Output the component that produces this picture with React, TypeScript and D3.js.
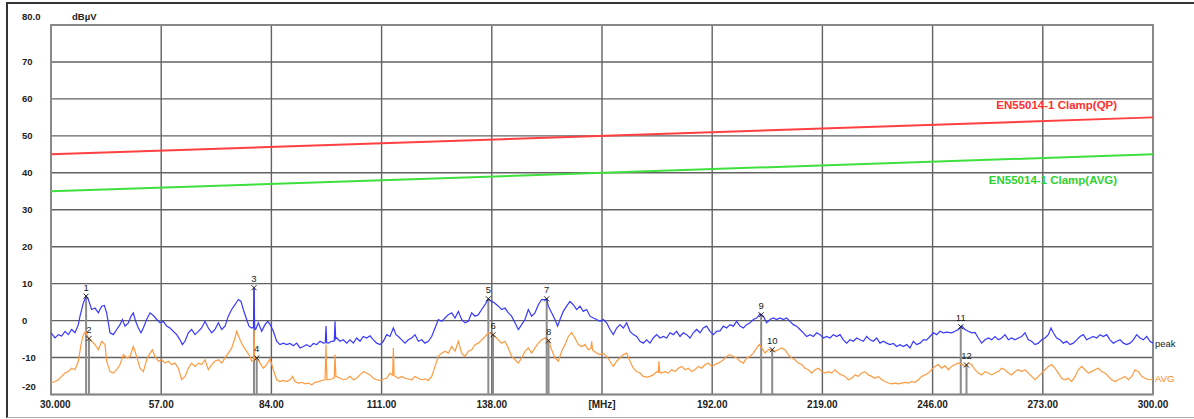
import React from 'react';
import * as d3 from 'd3';

// Frequency axis (MHz) and level axis (dBµV)
const X_TICKS = [30, 57, 84, 111, 138, 165, 192, 219, 246, 273, 300];
const X_TICK_LABELS = ['30.000', '57.00', '84.00', '111.00', '138.00', '[MHz]', '192.00', '219.00', '246.00', '273.00', '300.00'];
const Y_TICKS = [80, 70, 60, 50, 40, 30, 20, 10, 0, -10, -20];
const Y_TICK_LABELS = ['80.0', '70', '60', '50', '40', '30', '20', '10', '0', '-10', '-20'];
const Y_UNIT = 'dBµV';

// Limit lines: EN55014-1 clamp, quasi-peak and average
const LIMIT_FREQ = [30, 300];
const LIMIT_QP = [45, 55];
const LIMIT_AVG = [35, 45];
const LIMIT_QP_LABEL = 'EN55014-1 Clamp(QP)';
const LIMIT_AVG_LABEL = 'EN55014-1 Clamp(AVG)';

// Peak detector trace
const PEAK_FREQ = [30.0, 30.98, 31.8, 32.61, 33.43, 34.25, 35.06, 35.88, 36.7, 37.11, 37.92, 38.6, 39.15, 39.96, 40.78, 41.6, 42.41, 43.07, 43.64, 44.05, 44.46, 45.27, 46.09, 46.91, 47.48, 48.13, 48.95, 49.6, 50.17, 50.74, 51.4, 52.05, 52.62, 53.44, 54.26, 55.07, 55.89, 56.71, 57.52, 58.34, 59.16, 59.97, 60.79, 61.61, 62.18, 62.83, 63.65, 64.46, 65.28, 66.1, 66.91, 67.73, 68.55, 69.37, 70.18, 71.0, 71.82, 72.63, 73.45, 74.27, 75.08, 75.9, 76.55, 77.12, 77.94, 78.51, 79.16, 79.6, 79.74, 79.9, 80.14, 80.8, 81.62, 82.43, 83.09, 83.66, 84.48, 85.29, 86.11, 86.93, 87.74, 88.56, 89.38, 90.19, 91.01, 91.83, 92.64, 93.46, 94.28, 95.09, 95.91, 96.73, 97.2, 97.38, 97.55, 97.95, 98.77, 99.4, 99.59, 99.75, 100.0, 100.81, 101.63, 102.44, 103.26, 104.08, 104.89, 105.71, 106.53, 107.34, 108.16, 108.98, 109.79, 110.61, 111.43, 112.24, 113.06, 113.88, 114.53, 115.1, 115.92, 116.74, 117.55, 118.37, 119.19, 120.0, 120.82, 121.64, 122.45, 123.27, 124.09, 124.9, 125.72, 126.54, 127.35, 128.17, 128.99, 129.8, 130.62, 131.44, 132.25, 133.07, 133.89, 134.7, 135.52, 136.34, 137.15, 137.97, 138.78, 139.6, 140.41, 141.23, 142.05, 142.86, 143.68, 144.5, 145.31, 146.13, 146.95, 147.76, 148.58, 149.4, 150.21, 151.03, 151.45, 151.85, 152.66, 153.48, 154.13, 154.71, 155.52, 156.34, 157.16, 157.97, 158.79, 159.61, 160.42, 161.24, 162.06, 162.87, 163.69, 164.51, 165.32, 166.14, 166.96, 167.77, 168.59, 169.41, 170.22, 171.04, 171.86, 172.67, 173.49, 174.31, 175.12, 175.94, 176.76, 177.57, 178.39, 179.21, 180.02, 180.84, 181.66, 182.47, 183.29, 184.11, 184.92, 185.74, 186.56, 187.37, 188.19, 189.01, 189.82, 190.64, 191.46, 192.27, 193.09, 193.91, 194.73, 195.54, 196.36, 197.18, 197.99, 198.81, 199.63, 200.44, 201.26, 202.08, 202.89, 203.71, 204.53, 205.34, 206.16, 206.98, 207.79, 208.61, 209.43, 210.24, 211.06, 211.88, 212.69, 213.51, 214.33, 215.14, 215.96, 216.78, 217.59, 218.41, 219.23, 220.04, 220.86, 221.68, 222.49, 223.31, 224.13, 224.94, 225.76, 226.58, 227.39, 228.21, 229.03, 229.84, 230.66, 231.48, 232.29, 233.11, 233.93, 234.74, 235.56, 236.38, 237.19, 238.01, 238.83, 239.64, 240.46, 241.28, 242.09, 242.91, 243.73, 244.54, 245.36, 246.18, 246.99, 247.81, 248.63, 249.44, 249.86, 250.67, 251.49, 252.31, 253.12, 253.94, 254.76, 255.57, 256.39, 257.21, 258.02, 258.84, 259.66, 260.47, 261.29, 262.11, 262.92, 263.74, 264.56, 265.37, 266.19, 267.01, 267.82, 268.64, 269.46, 270.27, 271.09, 271.91, 272.72, 273.54, 274.36, 275.01, 275.58, 276.4, 277.22, 278.03, 278.85, 279.67, 280.48, 281.3, 282.12, 282.93, 283.75, 284.57, 285.38, 286.2, 287.02, 287.83, 288.65, 289.47, 290.28, 291.1, 291.92, 292.73, 293.55, 294.37, 295.18, 296.0, 296.82, 297.63, 298.45, 299.27, 300.0];
const PEAK_LEVEL = [-3.3, -4.7, -3.8, -4.2, -2.9, -3.8, -2.4, -3.3, -1.1, 1.2, 4.8, 6.6, 5.7, 3.0, 3.4, 2.1, 3.9, 4.1, 2.1, -0.6, -3.3, -3.8, -2.4, -1.1, 0.3, -1.5, -0.6, 1.2, 2.1, -0.2, -2.0, -3.3, -2.0, 0.3, 2.1, 1.4, 0.3, -0.6, -0.2, -1.5, -2.0, -2.9, -3.8, -5.2, -6.5, -5.6, -3.3, -2.4, -3.8, -2.9, -2.0, -0.2, -2.0, -3.3, -2.4, -0.6, -2.4, -1.5, 1.2, 3.0, 4.3, 5.7, 5.2, 3.0, 0.3, -1.5, -2.0, -1.8, 8.9, -2.2, -2.4, -0.6, -2.9, -1.1, -0.2, -1.0, -2.9, -5.6, -6.5, -6.1, -6.5, -6.2, -6.8, -6.1, -7.4, -7.0, -6.5, -7.1, -6.2, -6.5, -5.6, -6.1, -6.0, -1.5, -6.0, -6.1, -5.6, -5.5, -0.2, -5.0, -4.7, -5.6, -5.2, -6.1, -5.2, -6.1, -4.7, -5.6, -4.3, -4.7, -4.1, -5.2, -6.1, -6.5, -5.6, -3.8, -4.3, -2.0, -3.8, -4.3, -5.2, -6.1, -5.2, -4.7, -3.8, -5.6, -5.2, -6.1, -5.6, -4.3, -2.0, 0.3, -0.2, 0.7, 1.6, 2.1, 0.7, 2.5, 0.3, -0.6, -0.2, 2.1, 1.2, 1.6, 3.0, 4.3, 5.9, 5.2, 4.7, 3.9, 3.0, 3.4, 2.1, 1.2, -0.6, -2.4, -1.1, 0.3, 3.0, 1.2, 2.1, 4.3, 5.7, 5.7, 5.9, 3.9, 2.1, 0.3, -1.5, 0.3, 2.5, 3.9, 5.2, 4.3, 3.0, 3.9, 2.5, 3.0, 1.2, 0.7, 0.3, -0.2, 0.3, -0.6, -2.4, -3.8, -2.0, -1.1, -2.0, -0.6, -2.9, -3.8, -4.3, -5.6, -6.1, -5.2, -6.1, -4.7, -3.8, -4.7, -4.3, -4.7, -3.3, -3.8, -2.9, -4.3, -3.3, -3.8, -4.7, -3.3, -2.4, -3.3, -2.0, -1.5, -2.9, -3.8, -2.9, -2.8, -1.5, -2.0, -1.1, -1.5, -0.2, -1.5, -2.0, -1.1, -0.6, 0.3, 0.7, 1.8, 1.2, -0.6, 0.3, 0.7, 0.3, 0.7, 0.3, 0.7, -0.2, -1.1, -1.5, -2.4, -3.3, -4.3, -3.8, -4.3, -3.3, -3.8, -4.7, -4.3, -4.7, -3.8, -4.3, -3.8, -5.2, -6.1, -5.2, -5.6, -4.7, -5.2, -5.6, -4.3, -5.2, -5.6, -4.7, -6.1, -5.6, -6.1, -6.5, -6.2, -7.0, -6.5, -7.0, -6.5, -7.4, -5.6, -6.5, -6.1, -5.2, -5.2, -4.3, -3.3, -3.8, -2.9, -3.3, -3.1, -3.2, -3.3, -2.9, -2.4, -1.4, -2.4, -2.9, -3.3, -3.2, -4.7, -6.1, -5.2, -4.7, -5.2, -4.3, -5.2, -4.7, -3.8, -5.2, -4.7, -5.2, -4.7, -4.3, -3.3, -5.2, -5.6, -6.5, -6.1, -5.2, -4.7, -3.8, -2.0, -3.3, -4.7, -5.2, -6.1, -5.6, -6.5, -6.1, -5.2, -4.3, -3.8, -5.2, -4.7, -4.3, -4.7, -3.8, -4.3, -3.8, -5.2, -6.1, -5.6, -5.2, -6.1, -6.5, -6.1, -5.2, -3.8, -4.7, -5.2, -4.3, -5.6, -6.1];

// Average detector trace
const AVG_FREQ = [30.0, 30.98, 31.8, 32.61, 33.43, 34.25, 35.06, 35.88, 36.7, 37.35, 37.92, 38.49, 39.15, 39.96, 40.78, 41.6, 42.41, 43.23, 43.64, 44.46, 45.27, 46.09, 46.91, 47.72, 48.54, 49.36, 50.17, 50.99, 51.81, 52.62, 53.44, 54.26, 54.83, 55.48, 56.3, 57.11, 57.93, 58.75, 59.56, 60.38, 61.2, 62.01, 62.83, 63.65, 64.46, 65.28, 66.1, 66.91, 67.73, 68.55, 69.37, 70.18, 71.0, 71.82, 72.63, 73.45, 74.27, 75.08, 75.49, 76.31, 77.12, 77.94, 78.76, 79.16, 79.6, 79.74, 79.9, 80.39, 81.21, 82.02, 82.84, 83.66, 84.48, 85.29, 86.11, 86.93, 87.74, 88.56, 89.21, 89.79, 90.6, 91.42, 92.24, 93.05, 93.87, 94.69, 95.5, 96.32, 97.14, 97.38, 97.6, 98.77, 99.4, 99.59, 99.8, 100.81, 101.63, 102.44, 103.26, 104.08, 104.89, 105.71, 106.53, 107.34, 108.16, 108.98, 109.79, 110.61, 111.43, 112.24, 113.06, 113.7, 113.88, 114.06, 114.29, 115.1, 115.92, 116.74, 117.55, 118.37, 119.19, 120.0, 120.82, 121.64, 122.45, 123.27, 124.09, 124.9, 125.72, 126.54, 127.35, 128.17, 128.99, 129.8, 130.62, 131.44, 132.25, 133.07, 133.89, 134.7, 135.52, 136.34, 137.15, 137.97, 138.79, 139.6, 140.41, 141.23, 142.05, 142.86, 143.68, 144.5, 145.31, 146.13, 146.95, 147.76, 148.58, 149.4, 150.21, 151.03, 151.85, 152.66, 153.48, 154.3, 155.12, 155.93, 156.75, 157.57, 158.38, 159.2, 160.02, 160.83, 161.65, 162.3, 162.47, 162.7, 163.69, 164.51, 165.32, 166.14, 166.96, 167.77, 168.59, 169.41, 170.22, 171.04, 171.86, 172.67, 173.49, 174.31, 175.12, 175.94, 176.76, 177.57, 178.39, 178.8, 178.96, 179.15, 179.45, 180.43, 181.25, 182.07, 182.88, 183.7, 184.52, 185.33, 186.15, 186.97, 187.78, 188.6, 189.42, 190.23, 191.05, 191.87, 192.68, 193.5, 193.91, 194.73, 195.54, 196.36, 197.18, 197.99, 198.81, 199.63, 200.44, 201.26, 202.08, 202.89, 203.55, 204.12, 204.93, 205.75, 206.57, 207.39, 208.2, 209.02, 209.84, 210.65, 211.47, 212.29, 213.1, 213.92, 214.74, 215.55, 216.37, 217.19, 218.0, 218.82, 219.64, 220.45, 221.27, 222.09, 222.9, 223.72, 224.54, 225.35, 226.17, 226.99, 227.8, 228.62, 229.44, 230.25, 231.07, 231.89, 232.7, 233.52, 234.34, 235.15, 235.97, 236.79, 237.6, 238.42, 239.24, 240.05, 240.87, 241.69, 242.5, 243.32, 244.14, 244.95, 245.77, 246.59, 247.4, 248.22, 249.04, 249.86, 250.67, 251.49, 252.31, 253.12, 253.94, 254.76, 255.57, 256.39, 257.21, 258.02, 258.84, 259.66, 260.47, 261.29, 262.11, 262.92, 263.74, 264.56, 265.37, 266.19, 267.01, 267.82, 268.64, 269.46, 270.27, 271.09, 271.91, 272.72, 273.54, 274.36, 275.17, 275.99, 276.81, 277.62, 278.44, 279.26, 280.08, 280.89, 281.71, 282.52, 283.34, 284.16, 284.97, 285.79, 286.61, 287.42, 288.24, 289.06, 289.87, 290.69, 291.51, 292.32, 293.14, 293.96, 294.78, 295.59, 296.41, 297.23, 298.04, 298.86, 300.0];
const AVG_LEVEL = [-16.9, -16.5, -16.0, -15.1, -14.2, -13.8, -12.9, -13.3, -11.0, -6.5, -3.8, -2.9, -4.7, -5.6, -6.5, -7.9, -5.6, -6.5, -11.0, -13.8, -14.2, -13.3, -11.9, -9.2, -10.1, -9.7, -7.0, -9.7, -12.9, -13.8, -10.6, -8.8, -7.9, -9.7, -11.0, -10.6, -11.5, -11.0, -11.9, -11.5, -12.9, -16.0, -15.1, -12.9, -11.5, -12.4, -11.5, -11.9, -10.6, -13.3, -11.9, -11.0, -10.6, -11.5, -10.1, -8.8, -7.4, -4.7, -2.9, -5.2, -7.0, -8.3, -9.7, -11.0, -10.8, -2.4, -10.5, -10.1, -11.5, -12.9, -11.9, -10.3, -13.3, -16.0, -16.5, -16.2, -16.5, -16.0, -15.1, -16.5, -16.9, -16.7, -17.1, -16.9, -17.4, -16.7, -16.5, -16.2, -16.0, -6.5, -16.0, -15.8, -15.5, -9.2, -15.1, -15.6, -16.0, -15.8, -15.1, -16.0, -15.6, -14.7, -13.8, -14.2, -14.7, -15.6, -16.0, -16.2, -15.8, -15.6, -14.2, -14.8, -7.4, -14.8, -15.1, -15.6, -15.1, -15.6, -15.8, -16.0, -15.1, -15.6, -16.0, -15.8, -16.2, -15.1, -12.4, -9.7, -8.8, -8.3, -8.8, -7.0, -8.3, -5.6, -8.8, -9.7, -8.3, -7.9, -6.5, -6.1, -5.2, -4.3, -3.3, -3.5, -4.3, -5.2, -6.1, -5.6, -7.4, -9.7, -10.6, -11.5, -10.1, -8.3, -7.4, -8.8, -7.4, -6.1, -5.2, -4.7, -5.3, -7.9, -10.1, -11.0, -8.3, -6.5, -4.3, -3.2, -4.7, -6.5, -7.0, -6.5, -7.9, -7.5, -5.6, -8.0, -8.8, -9.2, -8.8, -9.7, -11.0, -12.4, -11.0, -10.1, -9.2, -8.8, -11.0, -12.9, -13.8, -14.2, -15.1, -15.3, -15.1, -14.7, -13.8, -14.0, -11.0, -14.0, -14.2, -13.8, -14.2, -13.3, -13.8, -12.9, -12.4, -13.3, -12.9, -13.8, -13.3, -12.4, -12.9, -11.9, -11.5, -12.4, -11.9, -11.5, -11.3, -10.6, -9.7, -9.2, -9.7, -10.1, -11.0, -11.5, -10.1, -9.7, -8.8, -7.4, -6.5, -7.4, -8.8, -7.9, -7.8, -8.3, -7.9, -7.4, -7.9, -9.2, -10.1, -10.6, -11.5, -11.9, -12.9, -13.3, -14.2, -13.3, -12.9, -13.8, -14.2, -13.8, -14.2, -13.3, -14.2, -14.7, -15.1, -16.0, -15.6, -14.7, -15.1, -14.2, -13.8, -14.7, -15.1, -15.6, -15.1, -16.0, -16.5, -16.9, -17.1, -16.9, -17.1, -16.9, -16.7, -16.9, -16.5, -16.7, -16.0, -15.1, -14.7, -14.2, -13.3, -12.4, -11.9, -12.9, -12.2, -13.3, -12.4, -11.9, -11.5, -11.7, -12.4, -11.5, -11.9, -13.3, -14.2, -14.7, -13.8, -14.2, -14.7, -14.2, -13.8, -12.9, -13.3, -14.2, -14.7, -13.8, -13.3, -13.8, -13.3, -14.2, -15.1, -16.0, -15.1, -14.2, -13.3, -12.4, -11.9, -12.9, -14.2, -15.6, -16.0, -15.6, -16.5, -15.1, -13.3, -12.4, -13.3, -14.2, -13.8, -13.3, -12.9, -13.8, -14.2, -15.1, -16.0, -16.5, -16.0, -15.6, -15.1, -16.0, -15.1, -13.3, -13.8, -15.1, -15.6, -16.0, -15.8];

const PEAK_LABEL = 'peak';
const AVG_LABEL = 'AVG';

// Numbered markers placed on the traces
const MARKER_IDS = [1, 2, 3, 4, 5, 6, 7, 8, 9, 10, 11, 12];
const MARKER_FREQ = [38.6, 39.3, 79.74, 80.4, 137.15, 138.3, 151.45, 151.9, 204.0, 206.7, 252.9, 254.3];
const MARKER_TRACE = ['peak', 'avg', 'peak', 'avg', 'peak', 'avg', 'peak', 'avg', 'peak', 'avg', 'peak', 'avg'];

const W = 1194;
const H = 419;
const PLOT = { left: 51, right: 1153, top: 25, bottom: 394.5 };
const FONT = '"Liberation Sans", Arial, sans-serif';

type Pt = { f: number; v: number };

const toPoints = (freq: number[], level: number[]): Pt[] => freq.map((f, i) => ({ f, v: level[i] }));

// Linear interpolation of a trace at a given frequency
const levelAt = (pts: Pt[], f: number): number => {
  const i = d3.bisector((d: Pt) => d.f).left(pts, f);
  if (i <= 0) return pts[0].v;
  if (i >= pts.length) return pts[pts.length - 1].v;
  const a = pts[i - 1];
  const b = pts[i];
  if (b.f === f) return b.v;
  return a.v + ((b.v - a.v) * (f - a.f)) / (b.f - a.f);
};

export default function App() {
  const x = d3.scaleLinear().domain([30, 300]).range([PLOT.left, PLOT.right]);
  const y = d3.scaleLinear().domain([-20, 80]).range([PLOT.bottom, PLOT.top]);

  const peak = toPoints(PEAK_FREQ, PEAK_LEVEL);
  const avg = toPoints(AVG_FREQ, AVG_LEVEL);
  const qp = toPoints(LIMIT_FREQ, LIMIT_QP);
  const avgLim = toPoints(LIMIT_FREQ, LIMIT_AVG);

  const line = d3
    .line<Pt>()
    .x((d) => x(d.f))
    .y((d) => y(d.v));

  const markers = MARKER_IDS.map((id, i) => {
    const pts = MARKER_TRACE[i] === 'peak' ? peak : avg;
    const f = MARKER_FREQ[i];
    return { id, f, v: levelAt(pts, f) };
  });

  const lastPeak = peak[peak.length - 1];
  const lastAvg = avg[avg.length - 1];
  const labelFreq = 291.2;

  return (
    <svg
      width={W}
      height={H}
      style={{ position: 'fixed', left: 0, top: 0, background: '#fff' }}
      fontFamily={FONT}
    >
      <rect x={0} y={0} width={W} height={H} fill="#fff" />
      {/* window frame */}
      <line x1={7} x2={W} y1={3} y2={3} stroke="#333" strokeWidth={2} />
      <line x1={7} x2={7} y1={2} y2={418} stroke="#333" strokeWidth={2} />
      <line x1={7} x2={W} y1={417.5} y2={417.5} stroke="#aaa" strokeWidth={1} />

      {/* grid */}
      <g stroke="#626262" strokeWidth={1.4}>
        {Y_TICKS.map((t) => (
          <line key={'h' + t} x1={PLOT.left} x2={PLOT.right} y1={y(t)} y2={y(t)} />
        ))}
        {X_TICKS.map((t) => (
          <line key={'v' + t} x1={x(t)} x2={x(t)} y1={PLOT.top} y2={PLOT.bottom} />
        ))}
      </g>
      <rect
        x={PLOT.left}
        y={PLOT.top}
        width={PLOT.right - PLOT.left}
        height={PLOT.bottom - PLOT.top}
        fill="none"
        stroke="#888"
        strokeWidth={1.8}
      />

      {/* y-axis labels */}
      <g fontSize={9.5} fill="#222" fontWeight="bold">
        {Y_TICKS.map((t, i) => {
          const shift = t === 80 ? -9 : t === -20 ? -8 : 0;
          return (
            <text key={'yl' + t} x={22} y={y(t) + shift} dominantBaseline="central">
              {Y_TICK_LABELS[i]}
            </text>
          );
        })}
        <text x={72} y={y(80) - 9} dominantBaseline="central">
          {Y_UNIT}
        </text>
      </g>

      {/* x-axis labels */}
      <g fontSize={10} fill="#222" fontWeight="bold">
        {X_TICKS.map((t, i) => (
          <text
            key={'xl' + t}
            x={i === 0 ? x(t) - 11 : x(t)}
            y={404}
            textAnchor={i === 0 ? 'start' : 'middle'}
            dominantBaseline="central"
          >
            {X_TICK_LABELS[i]}
          </text>
        ))}
      </g>

      {/* limit lines */}
      <path d={line(qp) || ''} fill="none" stroke="#ff4040" strokeWidth={2} />
      <path d={line(avgLim) || ''} fill="none" stroke="#3ee03e" strokeWidth={2} />
      <text
        x={x(labelFreq)}
        y={y(58.3)}
        textAnchor="end"
        dominantBaseline="central"
        fontSize={11.5}
        fontWeight="bold"
        fill="#ff3030"
      >
        {LIMIT_QP_LABEL}
      </text>
      <text
        x={x(labelFreq)}
        y={y(38.0)}
        textAnchor="end"
        dominantBaseline="central"
        fontSize={11.5}
        fontWeight="bold"
        fill="#2fd02f"
      >
        {LIMIT_AVG_LABEL}
      </text>

      {/* marker drop lines */}
      <g stroke="#8c8c8c" strokeWidth={2}>
        {markers.map((m) => (
          <line key={'ml' + m.id} x1={x(m.f)} x2={x(m.f)} y1={y(m.v)} y2={PLOT.bottom} />
        ))}
      </g>

      {/* traces */}
      <path d={line(avg) || ''} fill="none" stroke="#ff9a40" strokeWidth={1.2} />
      <path d={line(peak) || ''} fill="none" stroke="#3838ff" strokeWidth={1.2} />

      {/* markers */}
      <g>
        {markers.map((m) => {
          const cx = x(m.f);
          const cy = y(m.v);
          return (
            <g key={'mk' + m.id}>
              <path
                d={`M${cx - 2.5},${cy - 2.5}L${cx + 2.5},${cy + 2.5}M${cx - 2.5},${cy + 2.5}L${cx + 2.5},${cy - 2.5}`}
                stroke="#222"
                strokeWidth={1}
              />
              <text x={cx} y={cy - 9} textAnchor="middle" dominantBaseline="central" fontSize={9.5} fill="#222">
                {m.id}
              </text>
            </g>
          );
        })}
      </g>

      {/* trace names */}
      <text x={1155} y={y(lastPeak.v)} dominantBaseline="central" fontSize={9.5} fill="#222">
        {PEAK_LABEL}
      </text>
      <text x={1155} y={y(lastAvg.v)} dominantBaseline="central" fontSize={9.5} fill="#ff8a20">
        {AVG_LABEL}
      </text>
    </svg>
  );
}
